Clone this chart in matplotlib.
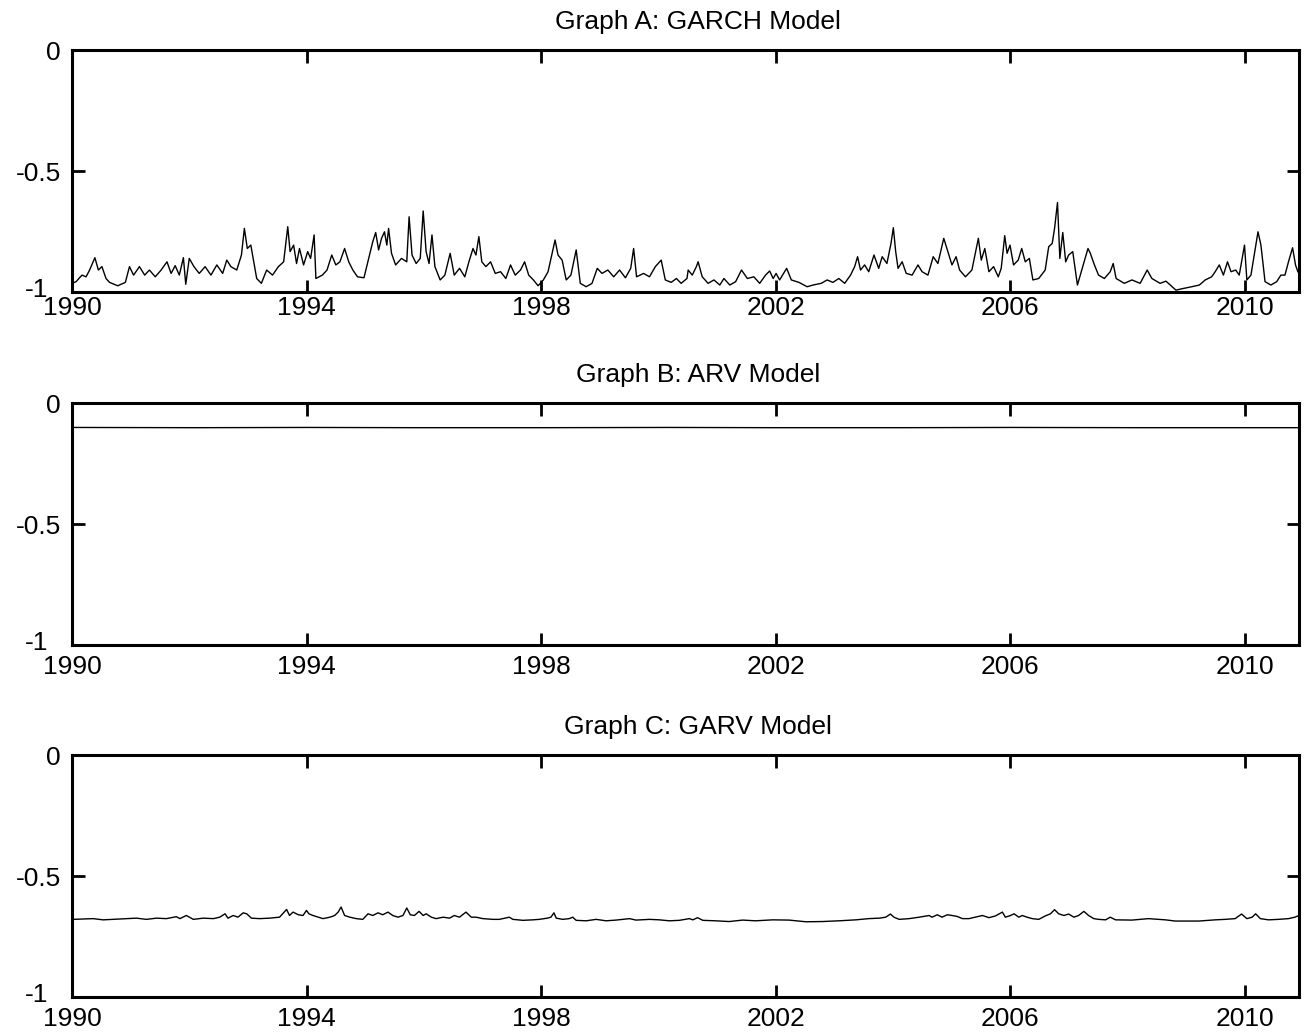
import numpy as np
import matplotlib
matplotlib.use("Agg")
import matplotlib.pyplot as plt
from matplotlib.transforms import ScaledTranslation

plt.rcParams['font.family'] = ['Liberation Sans', 'DejaVu Sans']

# Graph A: GARCH model, turning points (decimal year, value)
garch_year = [
    1990.00, 1990.07, 1990.17, 1990.24, 1990.30, 1990.39, 1990.45, 1990.51, 1990.58, 1990.64,
    1990.78, 1990.91, 1990.98, 1991.05, 1991.15, 1991.24, 1991.32, 1991.42, 1991.52, 1991.62,
    1991.69, 1991.76, 1991.83, 1991.90, 1991.94, 1992.00, 1992.08, 1992.17, 1992.27, 1992.37,
    1992.47, 1992.57, 1992.64, 1992.71, 1992.81, 1992.89, 1992.94, 1992.99, 1993.05, 1993.09,
    1993.15, 1993.23, 1993.32, 1993.42, 1993.52, 1993.61, 1993.68, 1993.72, 1993.78, 1993.83,
    1993.88, 1993.95, 1994.02, 1994.07, 1994.13, 1994.16, 1994.27, 1994.35, 1994.43, 1994.50,
    1994.57, 1994.65, 1994.72, 1994.79, 1994.87, 1994.98, 1995.06, 1995.13, 1995.18, 1995.23,
    1995.28, 1995.33, 1995.37, 1995.40, 1995.45, 1995.52, 1995.62, 1995.71, 1995.75, 1995.80,
    1995.87, 1995.94, 1995.99, 1996.04, 1996.09, 1996.14, 1996.19, 1996.28, 1996.36, 1996.45,
    1996.52, 1996.61, 1996.70, 1996.77, 1996.84, 1996.89, 1996.94, 1996.99, 1997.06, 1997.14,
    1997.22, 1997.31, 1997.40, 1997.48, 1997.56, 1997.65, 1997.72, 1997.79, 1997.87, 1997.95,
    1998.04, 1998.12, 1998.19, 1998.24, 1998.29, 1998.36, 1998.43, 1998.51, 1998.60, 1998.67,
    1998.77, 1998.87, 1998.96, 1999.04, 1999.14, 1999.24, 1999.34, 1999.44, 1999.53, 1999.58,
    1999.63, 1999.75, 1999.85, 1999.95, 2000.05, 2000.12, 2000.22, 2000.31, 2000.39, 2000.49,
    2000.51, 2000.58, 2000.65, 2000.68, 2000.75, 2000.85, 2000.95, 2001.05, 2001.12, 2001.22,
    2001.32, 2001.42, 2001.52, 2001.63, 2001.73, 2001.83, 2001.90, 2001.96, 2002.01, 2002.07,
    2002.19, 2002.27, 2002.40, 2002.54, 2002.64, 2002.78, 2002.88, 2002.98, 2003.08, 2003.18,
    2003.28, 2003.35, 2003.40, 2003.45, 2003.52, 2003.59, 2003.68, 2003.76, 2003.82, 2003.90,
    2003.97, 2004.01, 2004.05, 2004.09, 2004.16, 2004.23, 2004.33, 2004.43, 2004.50, 2004.60,
    2004.69, 2004.77, 2004.87, 2004.94, 2005.01, 2005.08, 2005.14, 2005.24, 2005.35, 2005.46,
    2005.51, 2005.57, 2005.64, 2005.72, 2005.80, 2005.85, 2005.91, 2005.95, 2006.00, 2006.06,
    2006.14, 2006.20, 2006.26, 2006.33, 2006.39, 2006.49, 2006.60, 2006.66, 2006.72, 2006.76,
    2006.81, 2006.85, 2006.90, 2006.95, 2007.00, 2007.07, 2007.15, 2007.24, 2007.33, 2007.37,
    2007.44, 2007.51, 2007.61, 2007.71, 2007.76, 2007.81, 2007.95, 2008.08, 2008.22, 2008.34,
    2008.42, 2008.56, 2008.66, 2008.83, 2008.96, 2009.10, 2009.23, 2009.33, 2009.44, 2009.50,
    2009.57, 2009.64, 2009.71, 2009.77, 2009.85, 2009.91, 2010.00, 2010.04, 2010.11, 2010.18,
    2010.23, 2010.28, 2010.35, 2010.45, 2010.55, 2010.62, 2010.69, 2010.75, 2010.82, 2010.87,
    2010.91,
]
garch_val = [
    -0.964, -0.957, -0.930, -0.937, -0.909, -0.858, -0.909, -0.895, -0.944, -0.960,
    -0.974, -0.960, -0.895, -0.930, -0.895, -0.930, -0.909, -0.937, -0.909, -0.875,
    -0.923, -0.891, -0.930, -0.858, -0.968, -0.861, -0.895, -0.923, -0.895, -0.930,
    -0.888, -0.923, -0.868, -0.895, -0.909, -0.847, -0.737, -0.820, -0.806, -0.861,
    -0.944, -0.964, -0.909, -0.930, -0.895, -0.875, -0.730, -0.833, -0.806, -0.882,
    -0.820, -0.888, -0.833, -0.861, -0.764, -0.944, -0.930, -0.909, -0.847, -0.888,
    -0.875, -0.820, -0.875, -0.909, -0.937, -0.941, -0.861, -0.792, -0.754, -0.826,
    -0.778, -0.751, -0.806, -0.737, -0.840, -0.888, -0.861, -0.875, -0.689, -0.847,
    -0.882, -0.861, -0.665, -0.833, -0.882, -0.764, -0.895, -0.950, -0.930, -0.840,
    -0.930, -0.902, -0.937, -0.875, -0.820, -0.847, -0.771, -0.875, -0.895, -0.875,
    -0.923, -0.916, -0.944, -0.888, -0.930, -0.909, -0.875, -0.930, -0.950, -0.974,
    -0.950, -0.916, -0.840, -0.785, -0.847, -0.868, -0.950, -0.930, -0.826, -0.964,
    -0.978, -0.964, -0.902, -0.923, -0.909, -0.937, -0.909, -0.941, -0.902, -0.820,
    -0.937, -0.923, -0.937, -0.895, -0.868, -0.950, -0.960, -0.944, -0.964, -0.944,
    -0.909, -0.930, -0.895, -0.875, -0.937, -0.964, -0.950, -0.971, -0.944, -0.971,
    -0.957, -0.909, -0.944, -0.937, -0.964, -0.930, -0.913, -0.944, -0.923, -0.950,
    -0.902, -0.950, -0.960, -0.978, -0.971, -0.964, -0.950, -0.960, -0.944, -0.964,
    -0.930, -0.895, -0.854, -0.909, -0.888, -0.916, -0.847, -0.902, -0.854, -0.882,
    -0.799, -0.734, -0.833, -0.902, -0.875, -0.923, -0.930, -0.888, -0.916, -0.930,
    -0.854, -0.882, -0.778, -0.833, -0.888, -0.854, -0.909, -0.937, -0.909, -0.778,
    -0.868, -0.820, -0.916, -0.895, -0.937, -0.902, -0.767, -0.840, -0.806, -0.888,
    -0.868, -0.820, -0.875, -0.861, -0.950, -0.944, -0.909, -0.813, -0.799, -0.737,
    -0.630, -0.861, -0.754, -0.875, -0.847, -0.833, -0.971, -0.895, -0.820, -0.840,
    -0.888, -0.930, -0.944, -0.916, -0.882, -0.944, -0.964, -0.950, -0.964, -0.909,
    -0.944, -0.964, -0.955, -0.992, -0.985, -0.978, -0.971, -0.950, -0.937, -0.916,
    -0.888, -0.930, -0.875, -0.916, -0.909, -0.930, -0.806, -0.950, -0.930, -0.826,
    -0.751, -0.806, -0.957, -0.971, -0.957, -0.930, -0.930, -0.875, -0.817, -0.888,
    -0.916,
]

# Graph B: ARV model, almost flat
arv_year = [1990.00, 1992.10, 1994.00, 1995.90, 1998.00, 2000.20, 2002.00, 2004.10, 2006.00, 2008.30, 2010.91]
arv_val = [-0.101, -0.102, -0.101, -0.102, -0.102, -0.101, -0.102, -0.102, -0.101, -0.102, -0.102]

# Graph C: GARV model, turning points
garv_year = [
    1990.02, 1990.36, 1990.53, 1990.70, 1990.93, 1991.10, 1991.27, 1991.44, 1991.61, 1991.78,
    1991.84, 1991.95, 1992.07, 1992.24, 1992.41, 1992.52, 1992.61, 1992.66, 1992.75, 1992.83,
    1992.92, 1992.98, 1993.06, 1993.20, 1993.37, 1993.54, 1993.66, 1993.71, 1993.77, 1993.86,
    1993.94, 1994.00, 1994.04, 1994.11, 1994.20, 1994.28, 1994.40, 1994.48, 1994.54, 1994.59,
    1994.65, 1994.74, 1994.85, 1994.96, 1995.05, 1995.13, 1995.22, 1995.30, 1995.39, 1995.47,
    1995.56, 1995.645, 1995.71, 1995.77, 1995.84, 1995.92, 1995.99, 1996.04, 1996.13, 1996.21,
    1996.33, 1996.44, 1996.52, 1996.61, 1996.72, 1996.81, 1996.89, 1997.01, 1997.18, 1997.29,
    1997.46, 1997.52, 1997.69, 1997.86, 1997.97, 1998.11, 1998.17, 1998.22, 1998.26, 1998.37,
    1998.48, 1998.54, 1998.60, 1998.77, 1998.94, 1999.11, 1999.28, 1999.51, 1999.62, 1999.85,
    2000.02, 2000.19, 2000.36, 2000.53, 2000.59, 2000.67, 2000.76, 2000.98, 2001.21, 2001.44,
    2001.66, 2001.95, 2002.23, 2002.52, 2002.80, 2003.08, 2003.37, 2003.59, 2003.77, 2003.88,
    2003.96, 2004.02, 2004.11, 2004.28, 2004.45, 2004.62, 2004.67, 2004.76, 2004.84, 2004.93,
    2005.01, 2005.10, 2005.19, 2005.30, 2005.41, 2005.53, 2005.64, 2005.75, 2005.87, 2005.92,
    2006.01, 2006.07, 2006.15, 2006.21, 2006.29, 2006.38, 2006.49, 2006.60, 2006.69, 2006.76,
    2006.83, 2006.92, 2007.00, 2007.09, 2007.17, 2007.26, 2007.34, 2007.43, 2007.51, 2007.63,
    2007.71, 2007.80, 2008.08, 2008.36, 2008.65, 2008.82, 2009.22, 2009.50, 2009.67, 2009.84,
    2009.95, 2010.04, 2010.13, 2010.19, 2010.27, 2010.41, 2010.58, 2010.75, 2010.86, 2010.91,
]
garv_val = [
    -0.679, -0.676, -0.681, -0.679, -0.676, -0.674, -0.679, -0.674, -0.676, -0.668,
    -0.676, -0.663, -0.679, -0.674, -0.676, -0.670, -0.656, -0.674, -0.663, -0.670,
    -0.652, -0.656, -0.674, -0.676, -0.674, -0.670, -0.638, -0.663, -0.649, -0.660,
    -0.663, -0.642, -0.656, -0.663, -0.670, -0.676, -0.670, -0.663, -0.649, -0.628,
    -0.663, -0.670, -0.676, -0.679, -0.656, -0.663, -0.652, -0.660, -0.649, -0.663,
    -0.670, -0.663, -0.632, -0.660, -0.663, -0.646, -0.663, -0.656, -0.670, -0.676,
    -0.670, -0.674, -0.663, -0.670, -0.649, -0.670, -0.670, -0.676, -0.679, -0.679,
    -0.670, -0.679, -0.683, -0.681, -0.679, -0.674, -0.670, -0.652, -0.674, -0.679,
    -0.676, -0.670, -0.683, -0.685, -0.679, -0.685, -0.682, -0.676, -0.682, -0.679,
    -0.681, -0.685, -0.683, -0.676, -0.681, -0.672, -0.683, -0.685, -0.688, -0.682,
    -0.685, -0.681, -0.682, -0.689, -0.688, -0.685, -0.681, -0.676, -0.674, -0.670,
    -0.657, -0.670, -0.679, -0.676, -0.670, -0.663, -0.670, -0.660, -0.670, -0.660,
    -0.663, -0.667, -0.676, -0.676, -0.670, -0.663, -0.672, -0.665, -0.649, -0.670,
    -0.663, -0.656, -0.670, -0.663, -0.670, -0.676, -0.679, -0.665, -0.656, -0.639,
    -0.656, -0.663, -0.657, -0.670, -0.663, -0.646, -0.663, -0.676, -0.679, -0.681,
    -0.670, -0.681, -0.682, -0.676, -0.681, -0.686, -0.686, -0.681, -0.679, -0.676,
    -0.657, -0.676, -0.670, -0.656, -0.676, -0.681, -0.679, -0.676, -0.670, -0.665,
]

titles = ["Graph A: GARCH Model", "Graph B: ARV Model", "Graph C: GARV Model"]
series = [(garch_year, garch_val), (arv_year, arv_val), (garv_year, garv_val)]
year_ticks = [1990, 1994, 1998, 2002, 2006, 2010]
val_ticks = [-1, -0.5, 0]
val_labels = ["-1", "-0.5", "0"]

fig = plt.figure(figsize=(13.07, 10.36), dpi=100)
left, width, height = 0.0551, 0.9388, 0.2336
bottoms = [0.7181, 0.3774, 0.0376]
xpads = [2.5, 7.5, 7.5]

# nudge the "-1" label up and left so it clears the first year label
nudge = ScaledTranslation(-9 / 72, 3 / 72, fig.dpi_scale_trans)

for i in range(3):
    ax = fig.add_axes([left, bottoms[i], width, height])
    x, y = series[i]
    ax.plot(x, y, color="black", lw=1.0)
    ax.set_xlim(1990, 2010.93)
    ax.set_ylim(-1, 0)
    ax.set_xticks(year_ticks)
    ax.set_yticks(val_ticks)
    ax.set_yticklabels(val_labels)
    ax.tick_params(direction="in", length=9, width=2, top=True, right=True,
                   labelsize=19)
    ax.tick_params(axis="x", pad=xpads[i])
    ax.tick_params(axis="y", pad=8)
    for s in ax.spines.values():
        s.set_linewidth(2.2)
    lab = ax.get_yticklabels()[0]
    lab.set_transform(lab.get_transform() + nudge)
    ax.set_title(titles[i], fontsize=19, x=0.51, pad=15)

fig.savefig("out.png", dpi=100)
